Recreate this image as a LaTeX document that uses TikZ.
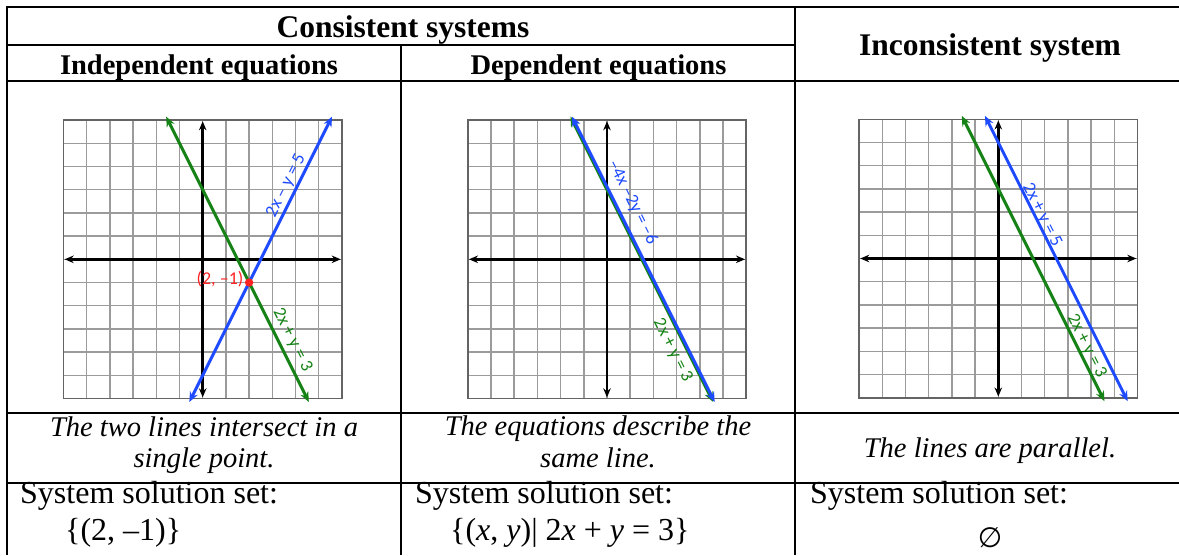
\documentclass[tikz,border=0pt]{standalone}
\usepackage{fontspec}
\setmainfont{Liberation Serif}
\newfontfamily\calib{Carlito}
\newfontfamily\djv{DejaVu Sans}
\usetikzlibrary{arrows.meta}
\definecolor{lblue}{RGB}{30,75,255}
\definecolor{lgreen}{RGB}{20,130,20}
\definecolor{lred}{RGB}{255,35,35}
\definecolor{gridgray}{RGB}{155,155,155}
\definecolor{bordergray}{RGB}{100,100,100}
\tikzset{
  tline/.style={line width=2pt},
  hdr/.style={font=\fontsize{31.5}{36}\selectfont\bfseries, inner sep=0pt, anchor=base},
  subhdr/.style={font=\fontsize{28.5}{33}\selectfont\bfseries, inner sep=0pt, anchor=base},
  desc/.style={font=\fontsize{28.5}{31}\selectfont\itshape, inner sep=0pt, anchor=base},
  sol/.style={font=\fontsize{32}{36}\selectfont, inner sep=0pt, anchor=base west},
  gridln/.style={gridgray, line width=1.5pt},
  gborder/.style={bordergray, line width=1.6pt},
  axisln/.style={black, line width=2.5pt, {Stealth[length=9pt,width=7.5pt]}-{Stealth[length=9pt,width=7.5pt]}},
  bline/.style={lblue, line width=3pt, {Stealth[length=10pt,width=8.5pt]}-{Stealth[length=10pt,width=8.5pt]}},
  gline/.style={lgreen, line width=3pt, {Stealth[length=10pt,width=8.5pt]}-{Stealth[length=10pt,width=8.5pt]}},
  glabel/.style={font=\calib\fontsize{18}{20}\selectfont, inner sep=0pt, anchor=center},
}
\newcommand\drawgraphgrid{%
  \foreach \i in {-6,...,6} {
    \draw[gridln] (\i,-6) -- (\i,6);
    \draw[gridln] (-6,\i) -- (6,\i);
  }
  \draw[gborder] (-6,-6) rectangle (6,6);
  \draw[axisln] (-5.95,0) -- (5.95,0);
  \draw[axisln] (0,-5.95) -- (0,5.95);
}
\begin{document}
\begin{tikzpicture}[x=1pt,y=-1pt]
\useasboundingbox[fill=white] (0,0) rectangle (1179,555);

% table rules
\draw[tline] (7,7) -- (1179,7);
\draw[tline] (7,45) -- (795,45);
\draw[tline] (7,81) -- (1179,81);
\draw[tline] (7,413) -- (1179,413);
\draw[tline] (7,483) -- (1179,483);
\draw[tline] (7,6) -- (7,555);
\draw[tline] (401,45) -- (401,555);
\draw[tline] (795,6) -- (795,555);

% headers
\node[hdr] (consist) at (403,37) {Consistent systems};
\node[subhdr] (indep) at (199,74) {Independent equations};
\node[subhdr] (dep) at (598.5,74) {Dependent equations};
\node[hdr] (incons) at (990,55) {Inconsistent system};

% graph 1
\begin{scope}[shift={(202.7,259.3)}, x=23.2pt, y=23.2pt]
  \drawgraphgrid
  \draw[gline] (-1.575,6.15) -- (4.575,-6.15);
  \draw[bline] (-0.575,-6.15) -- (5.575,6.15);
  \fill[lred] (2,-1) circle (4.2pt);
  \node[glabel, lred, anchor=east] (pt1) at (1.76,-0.87) {(2, –1)};
  \node[glabel, lblue, rotate=63.43] (g1b) at (3.6,3.18) {2x – y = 5};
  \node[glabel, lgreen, rotate=-63.43] (g1g) at (3.86,-3.47) {2x + y = 3};
\end{scope}

% graph 2
\begin{scope}[shift={(607,259.3)}, x=23.2pt, y=23.2pt]
  \drawgraphgrid
  \draw[gline] (-1.575,6.15) -- (4.575,-6.15);
  \draw[bline, xshift=1.5pt] (-1.575,6.15) -- (4.575,-6.15);
  \node[glabel, lblue, rotate=-63.43] (g2b) at (1.1,2.46) {–4x –2y = –6};
  \node[glabel, lgreen, rotate=-63.43] (g2g) at (2.83,-3.93) {2x + y = 3};
\end{scope}

% graph 3
\begin{scope}[shift={(998.3,258.5)}, x=23.2pt, y=23.2pt]
  \drawgraphgrid
  \draw[gline] (-1.575,6.15) -- (4.575,-6.15);
  \draw[bline] (-0.575,6.15) -- (5.575,-6.15);
  \node[glabel, lblue, rotate=-63.43] (g3b) at (1.88,1.89) {2x + y = 5};
  \node[glabel, lgreen, rotate=-63.43] (g3g) at (3.81,-3.79) {2x + y = 3};
\end{scope}

% descriptions
\node[desc] (d1a) at (204,436) {The two lines intersect in a};
\node[desc] (d1b) at (204,467) {single point.};
\node[desc] (d2a) at (598,435) {The equations describe the};
\node[desc] (d2b) at (598,467) {same line.};
\node[desc] (d3) at (990,457) {The lines are parallel.};

% solution sets
\node[sol] (s1) at (20,503) {System solution set:};
\node[sol] (s1b) at (65,540) {\{(2, –1)\}};
\node[sol] (s2) at (415,503) {System solution set:};
\node[sol] (s2b) at (450,540) {\{(\textit{x}, \textit{y})| 2\textit{x} + \textit{y} = 3\}};
\node[sol] (s3) at (810,503) {System solution set:};
\node[font=\djv\fontsize{28}{30}\selectfont, inner sep=0pt, anchor=base] (s3b) at (990,547) {∅};
\end{tikzpicture}
\end{document}
